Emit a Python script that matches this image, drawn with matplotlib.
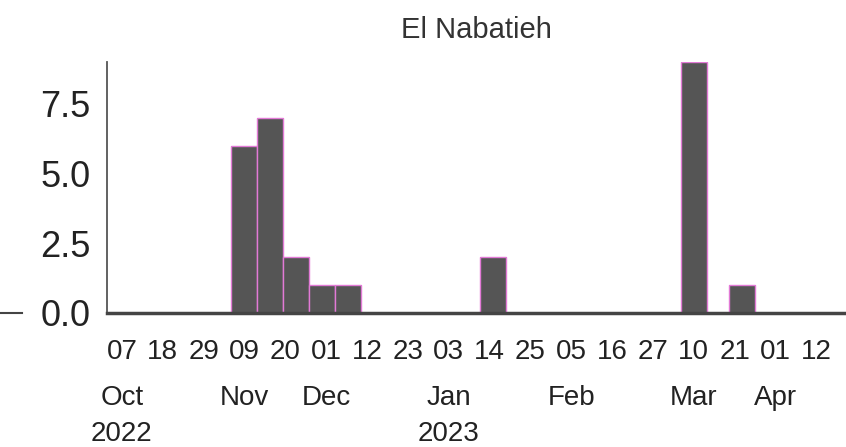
import matplotlib
matplotlib.use('Agg')
import matplotlib.pyplot as plt
import matplotlib.transforms as mtransforms
from matplotlib.lines import Line2D
import pandas as pd

plt.rcParams['font.family'] = ['Liberation Sans Narrow', 'Liberation Sans', 'DejaVu Sans']

# weekly case counts, El Nabatieh
week_dates = ['2022-11-09', '2022-11-16', '2022-11-23', '2022-11-30', '2022-12-07',
              '2023-01-15', '2023-03-10', '2023-03-23']
cases = [6, 7, 2, 1, 1, 2, 9, 1]

tick_dates = pd.date_range('2022-10-07', '2023-04-12', freq='11D')
day_labels = ['07', '18', '29', '09', '20', '01', '12', '23', '03', '14', '25',
              '05', '16', '27', '10', '21', '01', '12']
month_dates = ['2022-10-07', '2022-11-09', '2022-12-01', '2023-01-03',
               '2023-02-05', '2023-03-10', '2023-04-01']
month_names = ['Oct', 'Nov', 'Dec', 'Jan', 'Feb', 'Mar', 'Apr']
year_dates = ['2022-10-07', '2023-01-03']
year_names = ['2022', '2023']

fig = plt.figure(figsize=(8.46, 4.47), dpi=100)
ax = fig.add_axes([0.1265, 0.2998, 0.8735, 0.5615])

ax.bar(pd.to_datetime(week_dates), cases, width=7, color='#555555',
       edgecolor='#e27ad6', linewidth=1.0, zorder=2)

ax.set_xlim(pd.Timestamp('2022-10-03'), pd.Timestamp('2023-04-20'))
ax.set_ylim(0, 9)
ax.set_yticks([0, 2.5, 5.0, 7.5])
ax.set_yticklabels(['0.0', '2.5', '5.0', '7.5'])
ax.set_xticks(tick_dates)
ax.set_xticklabels(day_labels)

ax.tick_params(axis='y', length=0, pad=12, labelsize=26, labelcolor='#222222')
ax.tick_params(axis='x', length=0, pad=19, labelsize=20, labelcolor='#222222')

# month and year lines under the day labels
trans = mtransforms.blended_transform_factory(ax.transData, fig.transFigure)
for d, m in zip(month_dates, month_names):
    ax.text(pd.Timestamp(d), 0.11, m, transform=trans, ha='center', va='center',
            fontsize=20, color='#222222')
for d, y in zip(year_dates, year_names):
    ax.text(pd.Timestamp(d), 0.03, y, transform=trans, ha='center', va='center',
            fontsize=20, color='#222222')

for s in ['top', 'right']:
    ax.spines[s].set_visible(False)
ax.spines['left'].set_color('#555555')
ax.spines['left'].set_linewidth(1.3)
ax.spines['bottom'].set_color('#444444')
ax.spines['bottom'].set_linewidth(2.5)
ax.spines['bottom'].set_zorder(3)

ax.set_title('El Nabatieh', fontsize=21, color='#333333', pad=17)

# stray tick mark at left edge of the crop
fig.add_artist(Line2D([0, 0.026], [0.2998, 0.2998], color='#444444', linewidth=1.5))

fig.savefig('out.png', dpi=100)
